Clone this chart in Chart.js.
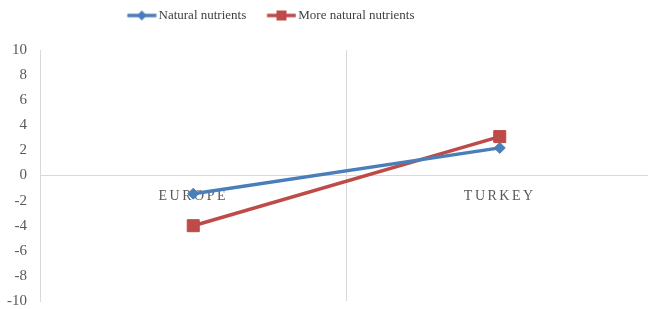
<!DOCTYPE html>
<html>
<head>
<meta charset="utf-8">
<script src="https://cdn.jsdelivr.net/npm/chart.js@4"></script>
<style>
  html, body { margin: 0; padding: 0; background: #fff; overflow: hidden; }
  /* plot area runs a few pixels past the right edge in the original */
  #wrap { width: 653px; height: 309px; }
</style>
</head>
<body>
<div id="wrap"><canvas id="chart"></canvas></div>
<script>
// Data
const categories = ['EUROPE', 'TURKEY'];
const seriesNames = ['Natural nutrients', 'More natural nutrients'];
const naturalValues = [-1.45, 2.2];
const moreNaturalValues = [-4.0, 3.1];
const yTicks = [-10, -8, -6, -4, -2, 0, 2, 4, 6, 8, 10];

const BLUE = '#4a7ebb';
const RED = '#be4b48';

// Legend symbol: line with a marker in the middle (Excel style).
// box is 37.5 wide, the image is centred on it and the line sits at its right end
function legendSymbol(color, shape) {
  const c = document.createElement('canvas');
  c.width = 47; c.height = 14;
  const g = c.getContext('2d');
  g.strokeStyle = color;
  g.lineWidth = 3.5;
  g.beginPath();
  g.moveTo(17.5, 7);
  g.lineTo(46.5, 7);
  g.stroke();
  g.fillStyle = color;
  const cx = 32, cy = 7;
  if (shape === 'diamond') {
    g.beginPath();
    g.moveTo(cx, cy - 5); g.lineTo(cx + 5, cy); g.lineTo(cx, cy + 5); g.lineTo(cx - 5, cy);
    g.closePath();
    g.fill();
  } else {
    g.fillRect(cx - 5, cy - 5, 10, 10);
  }
  return c;
}
const legendIcons = [legendSymbol(BLUE, 'diamond'), legendSymbol(RED, 'square')];

const tweaks = {
  id: 'tweaks',
  beforeDraw(chart) {
    // letter spacing for the category labels
    const s = chart.scales.x;
    if (s && !s._spaced) {
      const orig = s.drawLabels;
      s.drawLabels = function (area) {
        const c = this.ctx;
        c.save();
        c.letterSpacing = '2.5px';
        orig.call(this, area);
        c.restore();
      };
      s._spaced = true;
    }
    // legend row sits left of centre in the original
    if (chart.legend) chart.legend.right = chart.width - 124;
  }
};

const ctx = document.getElementById('chart').getContext('2d');
new Chart(ctx, {
  type: 'line',
  data: {
    labels: categories,
    datasets: [
      {
        label: seriesNames[0],
        data: naturalValues,
        borderColor: BLUE,
        backgroundColor: BLUE,
        borderWidth: 3.5,
        pointStyle: 'rectRot',
        pointRadius: 5.5,
        pointBorderWidth: 1,
        tension: 0
      },
      {
        label: seriesNames[1],
        data: moreNaturalValues,
        borderColor: RED,
        backgroundColor: RED,
        borderWidth: 3.5,
        pointStyle: 'rect',
        pointRadius: 8.5,
        pointBorderWidth: 1,
        tension: 0
      }
    ]
  },
  options: {
    responsive: true,
    maintainAspectRatio: false,
    animation: false,
    layout: {
      autoPadding: false,
      padding: { top: 1, bottom: 8, left: 0, right: 0 }
    },
    scales: {
      x: {
        type: 'category',
        position: { y: 0 },
        offset: true,
        afterFit: (scale) => {
          scale.height = 0;
          scale.paddingLeft = 0;
          scale.paddingRight = 0;
        },
        grid: {
          offset: true,
          drawTicks: false,
          color: (c) => (c.index === undefined || c.index === 2 ? 'rgba(0,0,0,0)' : '#d9d9d9'),
          lineWidth: 1
        },
        border: { display: true, color: '#d9d9d9', width: 1 },
        ticks: {
          padding: 12,
          color: '#595959',
          font: { family: 'Liberation Serif', size: 14 }
        }
      },
      y: {
        min: -10,
        max: 10,
        afterBuildTicks: (scale) => {
          scale.ticks = yTicks.map(v => ({ value: v }));
        },
        afterFit: (scale) => {
          scale.width = 40;
          scale.paddingTop = 0;
          scale.paddingBottom = 0;
        },
        grid: { display: false, drawTicks: false },
        border: { display: true, color: '#d9d9d9', width: 1 },
        ticks: {
          padding: 13,
          color: '#595959',
          font: { family: 'Liberation Serif', size: 15 }
        }
      }
    },
    plugins: {
      legend: {
        position: 'top',
        weight: 3000,
        labels: {
          usePointStyle: true,
          pointStyleWidth: 37.5,
          padding: 8,
          color: '#404040',
          font: { family: 'Liberation Serif', size: 13 },
          generateLabels: (chart) => chart.data.datasets.map((ds, i) => ({
            text: ds.label,
            pointStyle: legendIcons[i],
            fillStyle: ds.borderColor,
            strokeStyle: ds.borderColor,
            lineWidth: 0,
            datasetIndex: i,
            fontColor: '#404040'
          }))
        }
      },
      title: {
        display: true,
        text: '',
        padding: 0,
        font: { size: 10, lineHeight: '18px' }
      },
      tooltip: { enabled: false }
    }
  },
  plugins: [tweaks]
});
</script>
</body>
</html>
